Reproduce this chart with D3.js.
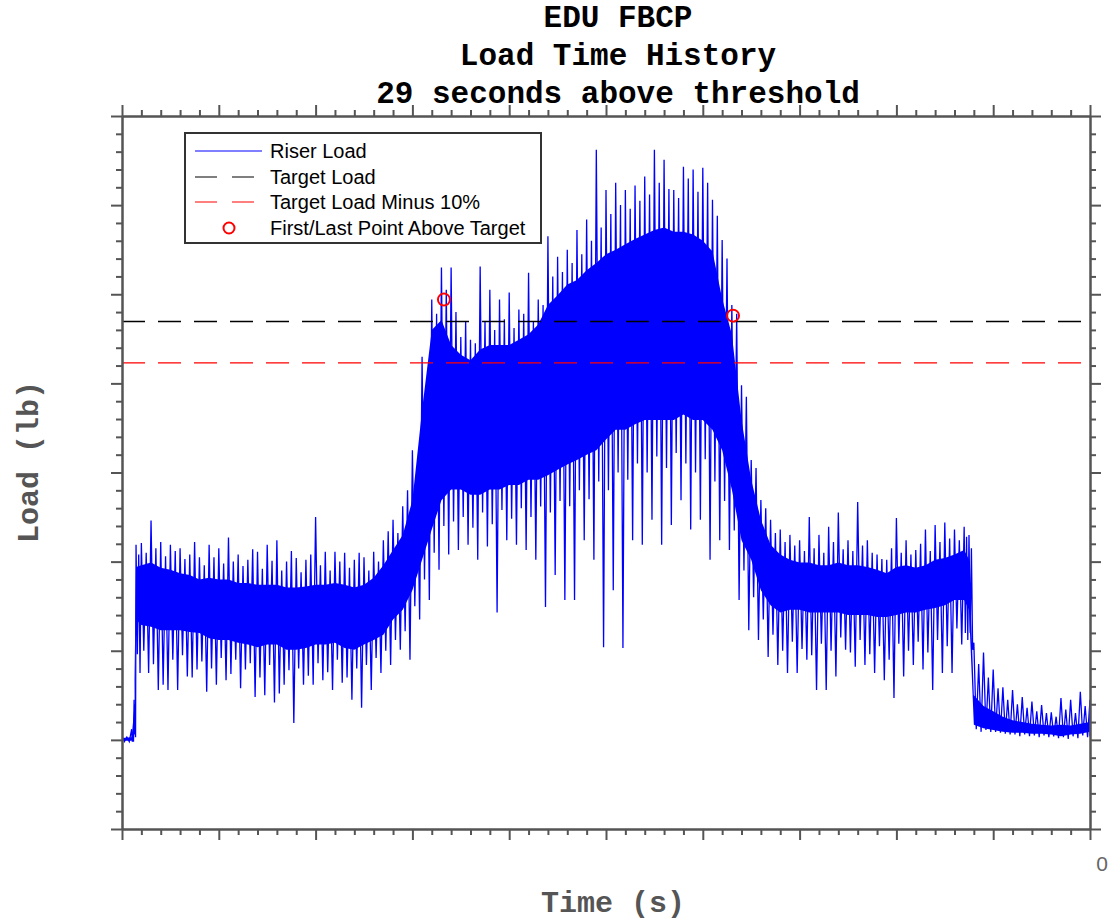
<!DOCTYPE html>
<html><head><meta charset="utf-8">
<script src="https://cdn.jsdelivr.net/npm/d3@7"></script>
<style>body{margin:0;background:#fff} svg{display:block}</style>
</head><body><svg id="c" width="1113" height="921"></svg>
<script>
// ---- data (time in s, load in lb) ----
const time = [0,1,1.25,1.45,2,3,4,5,6,7,8,9,10,11,12,13,14,15,16,17,18,19,20,21,22,23,24,25,26,27,28,29,30,31,32,33,34,35,36,37,38,39,40,41,42,43,44,45,46,47,48,49,50,51,52,53,54,55,56,57,58,59,60,61,62,63,64,65,66,67,68,69,70,71,72,73,74,75,76,77,78,79,80,81,82,83,84,85,86,87,87.5,88,89,90,91,92,93,94,95,96,97,98,99,100];
const peakHigh = [4,12,45,219,221,246,222,219,215,208,205,219,215,227,208,202,211,219,224,200,204,202,250,211,211,210,202,205,211,224,247,262,325,430,494,530,530,452,449,531,505,494,502,483,524,494,565,542,550,572,584,662,617,625,617,622,632,662,651,617,643,640,642,606,561,488,398,314,269,247,236,230,224,250,230,239,255,224,267,224,208,202,249,224,213,236,241,244,236,239,230,109,98,79,59,56,48,43,39,31,47,45,54,45];
const midHigh = [3,6,40,208,210,215,206,212,203,222,196,205,198,200,195,214,192,201,190,212,188,208,196,190,200,193,210,190,200,234,232,280,300,405,478,505,480,470,445,470,460,472,462,478,470,488,520,525,535,545,560,575,590,600,596,605,612,625,618,608,630,615,625,588,540,478,385,305,260,232,222,218,212,215,210,222,214,212,218,210,203,215,210,208,220,212,222,226,224,228,215,85,70,58,45,40,36,32,30,26,34,30,38,32];
const coreHigh = [2,3,34,194,196,199,193,191,187,185,180,182,180,180,176,176,174,174,174,171,171,172,174,174,176,174,171,174,182,196,213,230,269,370,460,471,443,432,426,438,443,443,443,449,455,466,488,499,511,516,527,535,545,550,556,562,567,572,575,570,570,567,560,548,495,455,359,292,247,219,208,202,199,199,196,196,199,196,196,194,191,187,194,196,193,196,202,204,208,213,202,50,38,32,26,22,20,18,17,16,17,16,18,20];
const coreLow = [-1,-1,11,135,129,127,123,123,123,121,120,114,112,112,109,107,104,107,107,101,101,103,107,107,109,103,101,107,112,118,135,146,168,202,236,269,281,281,275,275,281,281,286,286,292,292,297,303,309,314,320,325,337,348,348,354,359,359,359,359,365,359,359,348,325,281,224,202,168,151,143,146,146,143,143,143,143,140,140,140,138,138,140,143,143,146,148,151,157,157,146,17,13,11,9,8,8,7,7,6,4,6,7,9];
const midLow = [-2,-2,6,96,100,85,62,90,95,70,88,80,92,74,58,86,70,84,52,78,80,72,86,76,90,70,80,84,92,100,112,122,150,180,210,240,245,250,238,255,242,258,248,260,250,262,255,268,262,280,270,290,280,300,292,310,300,318,305,322,310,300,315,290,268,235,190,160,135,118,100,110,102,95,108,100,115,98,112,96,105,90,108,100,110,98,112,105,125,120,120,12,11,9,7,6,6,5,5,4,3,4,5,6];
const peakLow = [-2,-2,3,75,75,56,56,56,71,79,54,62,67,90,79,48,50,42,62,19,62,62,67,56,64,45,36,56,75,84,101,90,135,157,191,208,213,219,202,217,143,224,219,213,202,149,185,157,157,224,202,104,168,103,224,219,247,219,241,269,236,247,202,224,213,157,123,112,93,84,75,75,90,56,56,71,101,82,84,75,67,47,71,84,79,56,75,75,107,112,101,9,9,8,6,4,4,3,3,2,1,2,3,4];
const targetLoad = 470;
const targetMinus10 = 423;
const markerTime = [33.26, 63.12];
const markerLoad = [494, 476];
const titleLines = ["EDU FBCP","Load Time History","29 seconds above threshold"];
const legendLabels = ["Riser Load","Target Load","Target Load Minus 10%","First/Last Point Above Target"];
const xLabel = "Time (s)", yLabel = "Load (lb)";
const xEndLabel = "0";

// ---- layout ----
const svg = d3.select("#c");
const L = 122, R = 1090, T = 116, B = 829;
const x = d3.scaleLinear().domain([0, 100]).range([L, R]);
const y = d3.scaleLinear().domain([-100, 700]).range([B, T]);
const axisCol = "#555";
const blue = "#0000ff";

svg.append("defs").append("clipPath").attr("id","clip")
  .append("rect").attr("x",L).attr("y",T).attr("width",R-L).attr("height",B-T);
const plot = svg.append("g").attr("clip-path","url(#clip)");

// dense core of the signal
const area = d3.area().x((d,i)=>x(time[i])).y0((d,i)=>y(coreLow[i])).y1((d,i)=>y(coreHigh[i]));
plot.append("path").datum(time).attr("d", area).attr("fill",blue);

// spikes of the signal
const pts = [];
time.forEach((t,i)=>{
  const w = i < time.length-1 ? time[i+1] - t : 0;
  pts.push([t, peakHigh[i]]);
  pts.push([t + 0.25*w, midLow[i]]);
  pts.push([t + 0.5*w, midHigh[i]]);
  pts.push([t + 0.75*w, peakLow[i]]);
});
plot.append("path").datum(pts)
  .attr("d", d3.line().x(d=>x(d[0])).y(d=>y(d[1])))
  .attr("fill","none").attr("stroke",blue).attr("stroke-width",1.3).attr("stroke-linejoin","miter");

// target lines
const yt = Math.round(y(targetLoad)) + 0.5, ym = y(targetMinus10);
plot.append("line").attr("x1",L).attr("x2",R).attr("y1",yt).attr("y2",yt)
  .attr("stroke","#000").attr("stroke-width",1.5).attr("stroke-dasharray","23,13");
plot.append("line").attr("x1",L).attr("x2",R).attr("y1",ym).attr("y2",ym)
  .attr("stroke","#ff0000").attr("stroke-width",1.3).attr("stroke-dasharray","23,13");

// markers
markerTime.forEach((t,i)=>{
  svg.append("circle").attr("cx",x(t)).attr("cy",y(markerLoad[i])).attr("r",6)
    .attr("fill","none").attr("stroke","#ff0000").attr("stroke-width",2);
});

// ---- axes ----
const xMajor = d3.range(0, 101, 10), xMinor = d3.range(0, 101, 2).filter(v=>v%10!==0);
const yMajor = d3.range(-100, 701, 100), yMinor = d3.range(-100, 701, 20).filter(v=>v%100!==0);
function addAxis(gen, tf){
  const g = svg.append("g").attr("transform",tf);
  g.call(gen);
  g.selectAll("path").attr("stroke",axisCol).attr("stroke-width",2);
  g.selectAll("line").attr("stroke",axisCol).attr("stroke-width",2);
  g.selectAll("text").remove();
}
addAxis(d3.axisBottom(x).tickValues(xMinor).tickSize(6).tickSizeOuter(0), `translate(0,${B})`);
addAxis(d3.axisBottom(x).tickValues(xMajor).tickSize(11).tickSizeOuter(0), `translate(0,${B})`);
addAxis(d3.axisTop(x).tickValues(xMinor).tickSize(6).tickSizeOuter(0), `translate(0,${T})`);
addAxis(d3.axisTop(x).tickValues(xMajor).tickSize(11).tickSizeOuter(0), `translate(0,${T})`);
addAxis(d3.axisLeft(y).tickValues(yMinor).tickSize(6).tickSizeOuter(0), `translate(${L},0)`);
addAxis(d3.axisLeft(y).tickValues(yMajor).tickSize(11).tickSizeOuter(0), `translate(${L},0)`);
addAxis(d3.axisRight(y).tickValues(yMinor).tickSize(6).tickSizeOuter(0), `translate(${R},0)`);
addAxis(d3.axisRight(y).tickValues(yMajor).tickSize(11).tickSizeOuter(0), `translate(${R},0)`);

svg.append("text").attr("x", x(100)+12).attr("y", 871).attr("text-anchor","middle")
  .attr("font-family","'Liberation Sans', Arial, sans-serif").attr("font-size",21).attr("fill","#666")
  .text(xEndLabel);

// ---- titles ----
const mono = "'Liberation Mono','Courier New',monospace";
titleLines.forEach((s,i)=>{
  svg.append("text").attr("x",618).attr("y",27+38*i).attr("text-anchor","middle")
    .attr("font-family",mono).attr("font-weight","bold").attr("font-size",31).attr("fill","#000").text(s);
});
svg.append("text").attr("x",613).attr("y",912).attr("text-anchor","middle")
  .attr("font-family",mono).attr("font-weight","bold").attr("font-size",30).attr("fill","#555").text(xLabel);
svg.append("text").attr("transform","translate(38,462) rotate(-90)").attr("text-anchor","middle")
  .attr("font-family",mono).attr("font-weight","bold").attr("font-size",30).attr("fill","#555").text(yLabel);

// ---- legend ----
const lg = svg.append("g");
lg.append("rect").attr("x",185).attr("y",133).attr("width",356).attr("height",110)
  .attr("fill","#fff").attr("stroke","#333").attr("stroke-width",2);
const rowY = [151,177,202,228];
lg.append("line").attr("x1",195).attr("x2",262).attr("y1",rowY[0]).attr("y2",rowY[0]).attr("stroke",blue).attr("stroke-width",1.2);
lg.append("line").attr("x1",195).attr("x2",254).attr("y1",rowY[1]).attr("y2",rowY[1]).attr("stroke","#000").attr("stroke-width",1.2).attr("stroke-dasharray","22,15");
lg.append("line").attr("x1",195).attr("x2",254).attr("y1",rowY[2]).attr("y2",rowY[2]).attr("stroke","#ff0000").attr("stroke-width",1.2).attr("stroke-dasharray","22,15");
lg.append("circle").attr("cx",229).attr("cy",rowY[3]).attr("r",5.5).attr("fill","none").attr("stroke","#ff0000").attr("stroke-width",2);
legendLabels.forEach((s,i)=>{
  lg.append("text").attr("x",270).attr("y",rowY[i]+7).attr("font-family","'Liberation Sans', Arial, sans-serif")
    .attr("font-size",20).attr("fill","#000").text(s);
});
</script></body></html>
